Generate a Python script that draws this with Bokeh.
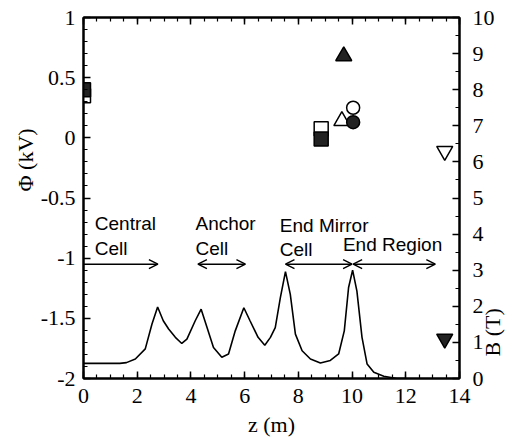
import math
from bokeh.plotting import figure
from bokeh.models import (LinearAxis, Range1d, SingleIntervalTicker, Label, Title,
                          Arrow, OpenHead, CustomJSTickFormatter, CustomLabelingPolicy)
from bokeh.embed import file_html
from bokeh.resources import INLINE

# ---- data ----
z_B = [0.0, 1.35, 1.6, 1.93, 2.3, 2.55, 2.76, 2.97, 3.17, 3.42, 3.66, 3.85, 4.16,
       4.38, 4.6, 4.84, 5.15, 5.4, 5.65, 5.97, 6.2, 6.5, 6.75, 6.96, 7.14, 7.33,
       7.52, 7.7, 7.89, 8.14, 8.45, 8.82, 9.19, 9.5, 9.71, 9.87, 10.02, 10.18,
       10.37, 10.56, 10.81, 11.18, 11.67, 12.0]
B_T = [0.42, 0.42, 0.44, 0.54, 0.82, 1.51, 1.98, 1.6, 1.37, 1.14, 0.97, 1.09, 1.6,
       1.92, 1.41, 0.86, 0.59, 0.68, 1.32, 1.96, 1.6, 1.14, 0.92, 1.14, 1.41, 2.24,
       2.96, 2.33, 1.23, 0.77, 0.54, 0.43, 0.5, 0.68, 1.32, 2.52, 3.0, 2.42,
       1.14, 0.4, 0.17, 0.06, 0.0, 0.0]

sq_open_z = [0.0, 8.85]
sq_open_phi = [0.35, 0.075]
sq_fill_z = [0.0, 8.85]
sq_fill_phi = [0.40, -0.01]
tri_fill_z = [9.69]
tri_fill_phi = [0.68]
tri_open_z = [9.62]
tri_open_phi = [0.14]
circ_open_z = [10.04]
circ_open_phi = [0.25]
circ_fill_z = [10.04]
circ_fill_phi = [0.13]
inv_open_z = [13.45]
inv_open_phi = [-0.11]
inv_fill_z = [13.45]
inv_fill_phi = [-1.67]

region_texts = ["Central", "Cell", "Anchor", "Cell", "End Mirror", "Cell", "End Region"]
region_text_z = [0.42, 0.42, 4.17, 4.17, 7.31, 7.31, 9.66]
region_text_phi = [-0.715, -0.92, -0.715, -0.92, -0.725, -0.93, -0.885]

arrow_z0 = [0.0, 4.26, 7.52, 10.04]
arrow_z1 = [2.77, 6.03, 10.0, 13.1]
arrow_both = [False, True, True, True]
arrow_phi = -1.05

x_ticks_interval = 2
phi_ticks_interval = 0.5
b_ticks_interval = 1

SERIF = "Liberation Serif"
SANS = "Liberation Sans"

p = figure(width=528, height=442, x_range=Range1d(0, 14), y_range=Range1d(-2, 1),
           output_backend="svg", toolbar_location=None,
           min_border_left=83, min_border_right=69, min_border_top=15,
           min_border_bottom=64, x_axis_location=None, y_axis_location=None)
p.grid.visible = False
p.outline_line_color = "black"
p.outline_line_width = 2
p.background_fill_color = "white"
p.border_fill_color = "white"
p.extra_y_ranges = {"B": Range1d(0, 10)}

plain_fmt = CustomJSTickFormatter(code="return String(tick)")


def style_axis(ax):
    ax.axis_line_width = 2
    ax.axis_line_color = "black"
    ax.major_tick_in = 7
    ax.major_tick_out = 0
    ax.minor_tick_in = 4
    ax.minor_tick_out = 0
    ax.major_tick_line_width = 1.5
    ax.minor_tick_line_width = 1.2
    ax.major_label_text_font = SERIF
    ax.major_label_text_font_size = "22px"
    ax.major_label_text_color = "black"
    ax.axis_label_text_font = SERIF
    ax.axis_label_text_font_size = "22px"
    ax.axis_label_text_font_style = "normal"
    ax.axis_label_text_color = "black"
    ax.formatter = plain_fmt


xb = LinearAxis(ticker=SingleIntervalTicker(interval=x_ticks_interval, num_minor_ticks=4),
                axis_label="z (m)")
style_axis(xb)
xb.major_label_standoff = 10
xb.axis_label_standoff = 6
p.add_layout(xb, "below")

xt = LinearAxis(ticker=SingleIntervalTicker(interval=x_ticks_interval, num_minor_ticks=4))
style_axis(xt)
xt.major_label_policy = CustomLabelingPolicy(
    code="for (const i of indices) { indices.unset(i) }; return indices")
xt.major_label_standoff = 0
p.add_layout(xt, "above")

yl = LinearAxis(ticker=SingleIntervalTicker(interval=phi_ticks_interval, num_minor_ticks=5))
style_axis(yl)
yl.major_label_standoff = 8
p.add_layout(yl, "left")

yr = LinearAxis(y_range_name="B",
                ticker=SingleIntervalTicker(interval=b_ticks_interval, num_minor_ticks=2),
                axis_label="\u2003B (T)")
style_axis(yr)
yr.major_label_standoff = 13
yr.axis_label_standoff = -5
yr.axis_label_orientation = math.pi / 2
for align in ("start", "left"):
    try:
        yr.axis_label_align = align
        break
    except Exception:
        pass
p.add_layout(yr, "right")

# Phi axis title, placed above the middle like the reference
p.add_layout(Title(text="Φ (kV)", align="left", offset=187, standoff=0,
                   text_font=SERIF, text_font_size="22px", text_font_style="normal",
                   text_color="black"), "left")

# B curve
p.line(z_B, B_T, y_range_name="B", line_color="black", line_width=1.6)

# markers
MS = 14
FILL = "#222222"
p.scatter(sq_open_z, sq_open_phi, marker="square", size=MS, fill_color="white",
          line_color="black", line_width=1.5)
p.scatter(sq_fill_z, sq_fill_phi, marker="square", size=MS, fill_color=FILL,
          line_color="black", line_width=1.5)
p.scatter(tri_fill_z, tri_fill_phi, marker="triangle", size=MS + 2, fill_color=FILL,
          line_color="black", line_width=1.5)
p.scatter(tri_open_z, tri_open_phi, marker="triangle", size=MS + 2, fill_color="white",
          line_color="black", line_width=1.5)
p.scatter(circ_open_z, circ_open_phi, marker="circle", size=MS - 1, fill_color="white",
          line_color="black", line_width=1.5)
p.scatter(circ_fill_z, circ_fill_phi, marker="circle", size=MS - 1, fill_color=FILL,
          line_color="black", line_width=1.5)
p.scatter(inv_open_z, inv_open_phi, marker="inverted_triangle", size=MS + 2,
          fill_color="white", line_color="black", line_width=1.5)
p.scatter(inv_fill_z, inv_fill_phi, marker="inverted_triangle", size=MS + 2,
          fill_color=FILL, line_color="black", line_width=1.5)

# region labels
for t, zz, ph in zip(region_texts, region_text_z, region_text_phi):
    p.add_layout(Label(x=zz, y=ph, text=t, text_font=SANS, text_font_size="19px",
                       text_align="left", text_baseline="alphabetic", text_color="black"))

# arrows
for z0, z1, both in zip(arrow_z0, arrow_z1, arrow_both):
    p.add_layout(Arrow(x_start=z0, y_start=arrow_phi, x_end=z1, y_end=arrow_phi,
                       line_width=1.4, line_color="black",
                       end=OpenHead(size=9, line_width=1.4, line_color="black"),
                       start=OpenHead(size=9, line_width=1.4, line_color="black") if both else None))

open("out.html", "w").write(file_html(p, INLINE))
